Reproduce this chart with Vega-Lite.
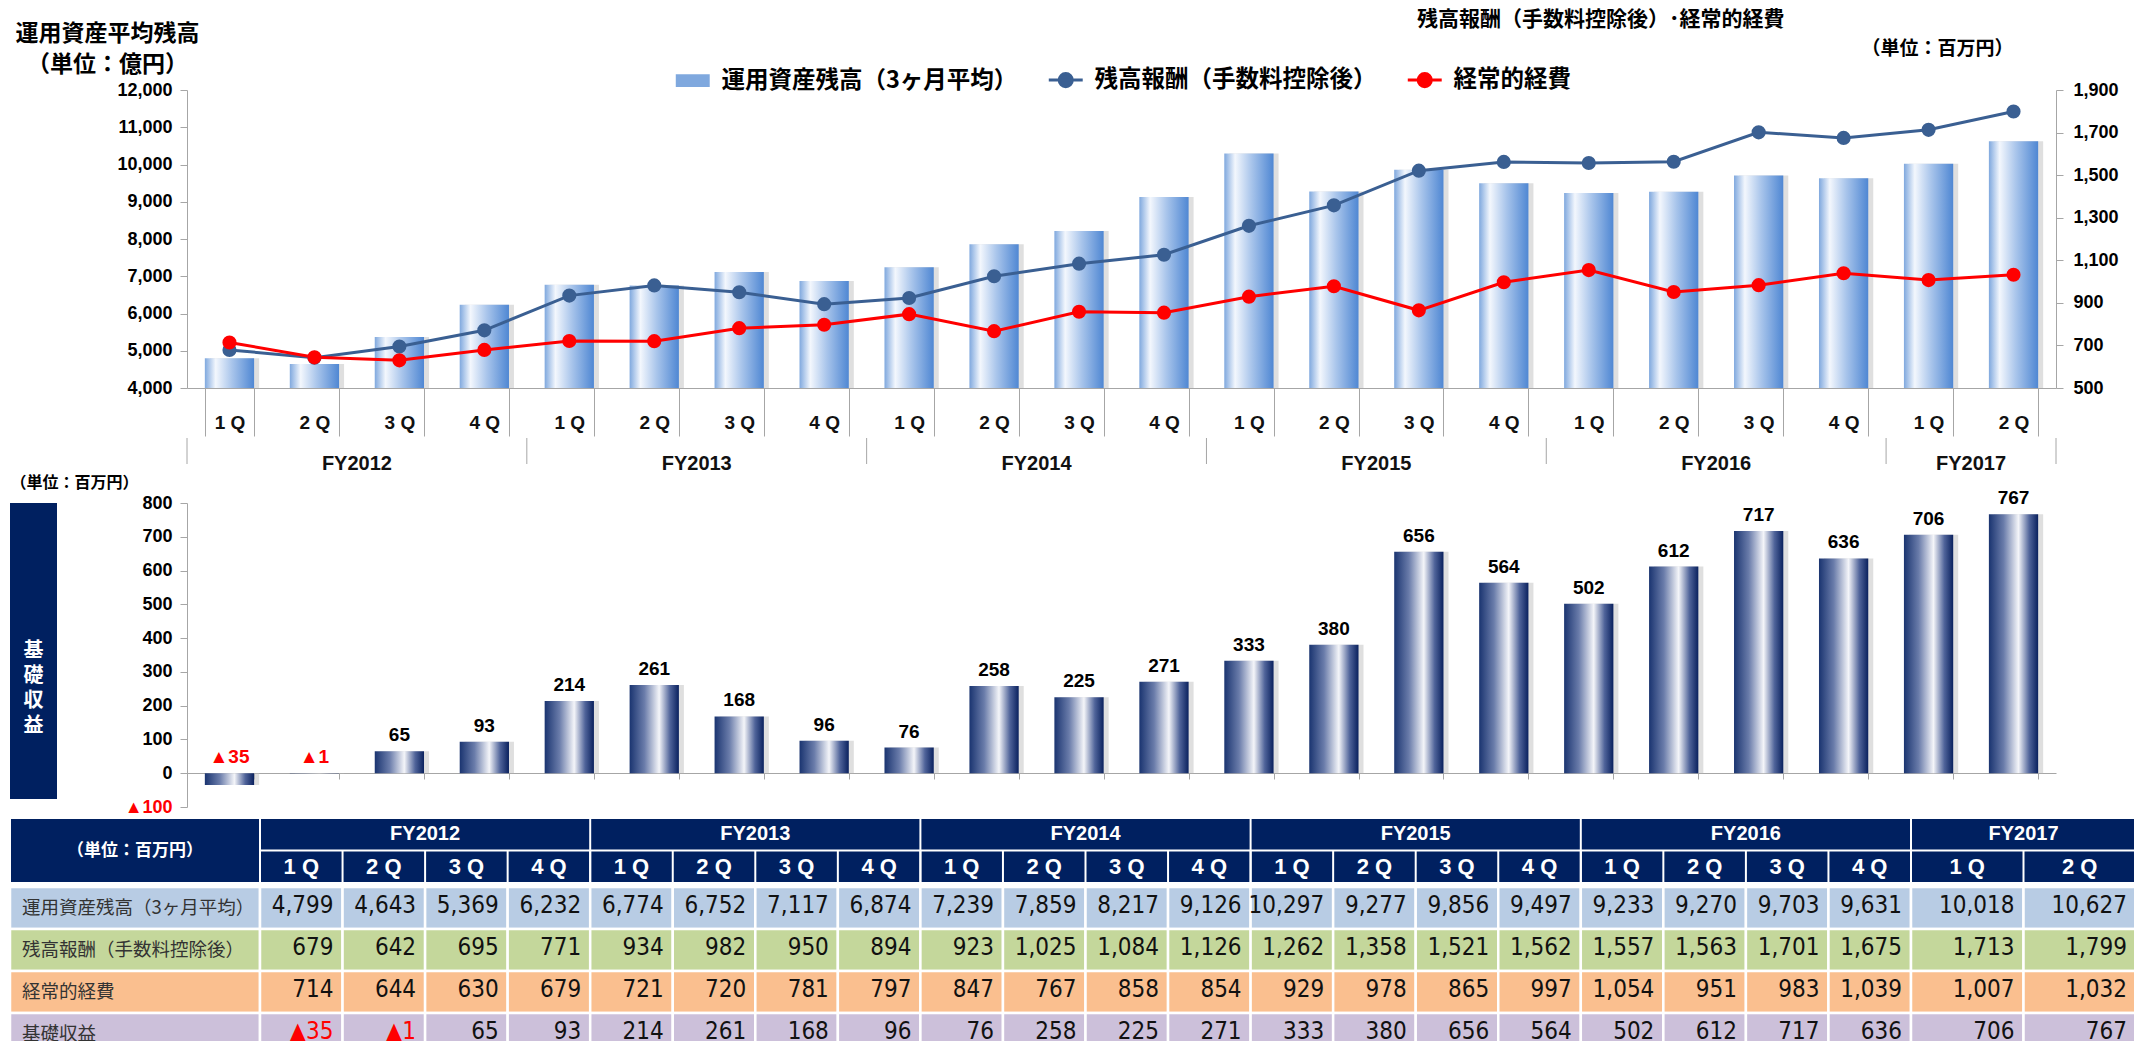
{
  "$schema": "https://vega.github.io/schema/vega-lite/v6.json",
  "background": "white",
  "padding": {"left": 8, "top": 9, "right": 0, "bottom": 0},
  "spacing": 0,
  "datasets": {
    "q": [
      {"key": "FY2012 1Q", "fy": "FY2012", "q": "1Q", "aum": 4799, "fee": 679, "exp": 714, "basic": -35},
      {"key": "FY2012 2Q", "fy": "FY2012", "q": "2Q", "aum": 4643, "fee": 642, "exp": 644, "basic": -1},
      {"key": "FY2012 3Q", "fy": "FY2012", "q": "3Q", "aum": 5369, "fee": 695, "exp": 630, "basic": 65},
      {"key": "FY2012 4Q", "fy": "FY2012", "q": "4Q", "aum": 6232, "fee": 771, "exp": 679, "basic": 93},
      {"key": "FY2013 1Q", "fy": "FY2013", "q": "1Q", "aum": 6774, "fee": 934, "exp": 721, "basic": 214},
      {"key": "FY2013 2Q", "fy": "FY2013", "q": "2Q", "aum": 6752, "fee": 982, "exp": 720, "basic": 261},
      {"key": "FY2013 3Q", "fy": "FY2013", "q": "3Q", "aum": 7117, "fee": 950, "exp": 781, "basic": 168},
      {"key": "FY2013 4Q", "fy": "FY2013", "q": "4Q", "aum": 6874, "fee": 894, "exp": 797, "basic": 96},
      {"key": "FY2014 1Q", "fy": "FY2014", "q": "1Q", "aum": 7239, "fee": 923, "exp": 847, "basic": 76},
      {"key": "FY2014 2Q", "fy": "FY2014", "q": "2Q", "aum": 7859, "fee": 1025, "exp": 767, "basic": 258},
      {"key": "FY2014 3Q", "fy": "FY2014", "q": "3Q", "aum": 8217, "fee": 1084, "exp": 858, "basic": 225},
      {"key": "FY2014 4Q", "fy": "FY2014", "q": "4Q", "aum": 9126, "fee": 1126, "exp": 854, "basic": 271},
      {"key": "FY2015 1Q", "fy": "FY2015", "q": "1Q", "aum": 10297, "fee": 1262, "exp": 929, "basic": 333},
      {"key": "FY2015 2Q", "fy": "FY2015", "q": "2Q", "aum": 9277, "fee": 1358, "exp": 978, "basic": 380},
      {"key": "FY2015 3Q", "fy": "FY2015", "q": "3Q", "aum": 9856, "fee": 1521, "exp": 865, "basic": 656},
      {"key": "FY2015 4Q", "fy": "FY2015", "q": "4Q", "aum": 9497, "fee": 1562, "exp": 997, "basic": 564},
      {"key": "FY2016 1Q", "fy": "FY2016", "q": "1Q", "aum": 9233, "fee": 1557, "exp": 1054, "basic": 502},
      {"key": "FY2016 2Q", "fy": "FY2016", "q": "2Q", "aum": 9270, "fee": 1563, "exp": 951, "basic": 612},
      {"key": "FY2016 3Q", "fy": "FY2016", "q": "3Q", "aum": 9703, "fee": 1701, "exp": 983, "basic": 717},
      {"key": "FY2016 4Q", "fy": "FY2016", "q": "4Q", "aum": 9631, "fee": 1675, "exp": 1039, "basic": 636},
      {"key": "FY2017 1Q", "fy": "FY2017", "q": "1Q", "aum": 10018, "fee": 1713, "exp": 1007, "basic": 706},
      {"key": "FY2017 2Q", "fy": "FY2017", "q": "2Q", "aum": 10627, "fee": 1799, "exp": 1032, "basic": 767}
    ],
    "fyl": [
      {"fy": "FY2012", "anchor": "FY2012 2Q"},
      {"fy": "FY2013", "anchor": "FY2013 2Q"},
      {"fy": "FY2014", "anchor": "FY2014 2Q"},
      {"fy": "FY2015", "anchor": "FY2015 2Q"},
      {"fy": "FY2016", "anchor": "FY2016 2Q"},
      {"fy": "FY2017", "anchor": "FY2017 1Q"}
    ],
    "rows": [
      {"metric": "aum", "name": "運用資産残高（3ヶ月平均）"},
      {"metric": "fee", "name": "残高報酬（手数料控除後）"},
      {"metric": "exp", "name": "経常的経費"},
      {"metric": "basic", "name": "基礎収益"}
    ]
  },
  "vconcat": [
    {
      "hconcat": [
        {"width": 177, "height": 298, "data": {"values": []}, "mark": "point"},
        {
          "width": 1869,
          "height": 298,
          "data": {"name": "q"},
          "title": {"text": "残高報酬（手数料控除後）･経常的経費", "anchor": "start", "frame": "group", "dx": 1230, "offset": -8, "font": "Noto Sans CJK JP", "fontSize": 21, "fontWeight": "bold", "color": "#000000"},
          "layer": [
            {
              "mark": {"type": "bar", "fill": "#c4c4c4", "opacity": 0.55, "xOffset": 5},
              "encoding": {
                "x": {"field": "key", "type": "nominal", "sort": null, "scale": {"domain": ["FY2012 1Q","FY2012 2Q","FY2012 3Q","FY2012 4Q","FY2013 1Q","FY2013 2Q","FY2013 3Q","FY2013 4Q","FY2014 1Q","FY2014 2Q","FY2014 3Q","FY2014 4Q","FY2015 1Q","FY2015 2Q","FY2015 3Q","FY2015 4Q","FY2016 1Q","FY2016 2Q","FY2016 3Q","FY2016 4Q","FY2017 1Q","FY2017 2Q"], "paddingInner": 0.42, "paddingOuter": 0.21},
                  "axis": {"title": null, "labelExpr": "isValid(datum.value) ? substring(datum.value, 7, 8) + ' Q' : ''", "labelAngle": 0, "tickBand": "extent", "tickSize": 48, "tickColor": "#a6a6a6", "domainColor": "#a6a6a6", "labelPadding": -14, "labelBaseline": "middle", "labelFontSize": 19, "labelFontWeight": "bold", "labelColor": "#111111"}},
                "y": {"field": "aum", "type": "quantitative", "scale": {"domain": [4000, 12000], "zero": false, "nice": false}, "axis": null},
                "y2": {"datum": 4000}
              }
            },
            {
              "mark": {"type": "bar", "fill": {"gradient": "linear", "x1": 0, "y1": 0, "x2": 1, "y2": 0, "stops": [{"offset": 0, "color": "#7fa8de"}, {"offset": 0.22, "color": "#f3f7fd"}, {"offset": 0.55, "color": "#a9c5eb"}, {"offset": 1, "color": "#4f87d3"}]}},
              "encoding": {
                "x": {"field": "key", "type": "nominal", "sort": null,
                  "axis": {"title": null, "labelExpr": "isValid(datum.value) ? substring(datum.value, 7, 8) + ' Q' : ''", "labelAngle": 0, "tickBand": "extent", "tickSize": 48, "tickColor": "#a6a6a6", "domainColor": "#a6a6a6", "labelPadding": -14, "labelBaseline": "middle", "labelFontSize": 19, "labelFontWeight": "bold", "labelColor": "#111111"}},
                "y": {"field": "aum", "type": "quantitative", "scale": {"domain": [4000, 12000], "zero": false, "nice": false},
                  "axis": {"title": ["運用資産平均残高", "（単位：億円）"], "titleAngle": 0, "titleAlign": "center", "titleBaseline": "top", "titleX": -80, "titleY": -68, "titleFont": "Noto Sans CJK JP", "titleFontSize": 23, "titleFontWeight": "bold", "titleLineHeight": 31, "titleColor": "#000000", "values": [4000, 5000, 6000, 7000, 8000, 9000, 10000, 11000, 12000], "format": ",.0f", "labelFontSize": 18, "labelFontWeight": "bold", "labelColor": "#000000", "tickColor": "#a6a6a6", "tickSize": 7, "domainColor": "#a6a6a6", "labelPadding": 8, "grid": false}},
                "y2": {"datum": 4000}
              }
            },
            {
              "transform": [{"fold": ["fee", "exp"], "as": ["series", "val"]}],
              "mark": {"type": "line", "strokeWidth": 3, "point": {"filled": true, "size": 200}},
              "encoding": {
                "x": {"field": "key", "type": "nominal", "sort": null,
                  "axis": {"title": null, "labelExpr": "isValid(datum.value) ? substring(datum.value, 7, 8) + ' Q' : ''", "labelAngle": 0, "tickBand": "extent", "tickSize": 48, "tickColor": "#a6a6a6", "domainColor": "#a6a6a6", "labelPadding": -14, "labelBaseline": "middle", "labelFontSize": 19, "labelFontWeight": "bold", "labelColor": "#111111"}},
                "y": {"field": "val", "type": "quantitative", "scale": {"domain": [500, 1900], "zero": false, "nice": false},
                  "axis": {"orient": "right", "title": "（単位：百万円）", "titleAngle": 0, "titleAlign": "center", "titleBaseline": "middle", "titleX": -119, "titleY": -42, "titleFont": "Noto Sans CJK JP", "titleFontSize": 19, "titleFontWeight": "bold", "titleColor": "#000000", "values": [500, 700, 900, 1100, 1300, 1500, 1700, 1900], "format": ",.0f", "labelFontSize": 18, "labelFontWeight": "bold", "labelColor": "#000000", "tickColor": "#a6a6a6", "tickSize": 7, "domainColor": "#a6a6a6", "labelPadding": 10, "grid": false}},
                "color": {"field": "series", "type": "nominal", "scale": {"domain": ["aum", "fee", "exp"], "range": ["#7fa8de", "#3a5f92", "#ff0000"]},
                  "legend": {"title": null, "orient": "none", "legendX": 671, "legendY": -22, "direction": "horizontal", "values": ["aum", "fee", "exp"],
                    "labelExpr": "datum.value === 'aum' ? '運用資産残高（3ヶ月平均）' : datum.value === 'fee' ? '残高報酬（手数料控除後）' : '経常的経費'",
                    "labelFont": "Noto Sans CJK JP", "labelFontSize": 23.5, "labelFontWeight": "bold", "labelColor": "#000000", "labelLimit": 500, "labelOffset": 17, "columnPadding": 24, "symbolSize": 450,
                    "symbolType": {"expr": "datum.value === 'aum' ? 'M-1.6,-0.6H1.6V0.6H-1.6Z' : 'M-1.6,0H1.6M0.62,0A0.62,0.62,0,1,1,-0.62,0A0.62,0.62,0,1,1,0.62,0Z'"},
                    "symbolStrokeColor": {"expr": "scale('color', datum.value)"},
                    "symbolStrokeWidth": {"expr": "datum.value === 'aum' ? 0 : 3"}}}
              }
            }
          ],
          "resolve": {"scale": {"y": "independent"}}
        }
      ],
      "spacing": 0,
      "bounds": "flush"
    },
    {
      "hconcat": [
        {"width": 177, "height": 26, "data": {"values": []}, "mark": "point"},
        {
          "width": 1869,
          "height": 26,
          "layer": [
            {"data": {"name": "q"}, "transform": [{"filter": "datum.q === '1Q'"}], "mark": {"type": "rule", "color": "#a6a6a6"},
              "encoding": {"x": {"field": "key", "type": "nominal", "bandPosition": 0, "scale": {"type": "band", "domain": ["FY2012 1Q","FY2012 2Q","FY2012 3Q","FY2012 4Q","FY2013 1Q","FY2013 2Q","FY2013 3Q","FY2013 4Q","FY2014 1Q","FY2014 2Q","FY2014 3Q","FY2014 4Q","FY2015 1Q","FY2015 2Q","FY2015 3Q","FY2015 4Q","FY2016 1Q","FY2016 2Q","FY2016 3Q","FY2016 4Q","FY2017 1Q","FY2017 2Q"], "paddingInner": 0, "paddingOuter": 0}, "axis": null}}},
            {"data": {"name": "q"}, "transform": [{"filter": "datum.key === 'FY2017 2Q'"}], "mark": {"type": "rule", "color": "#a6a6a6"},
              "encoding": {"x": {"field": "key", "type": "nominal", "bandPosition": 1, "axis": null}}},
            {"data": {"name": "fyl"}, "mark": {"type": "text", "font": "Liberation Sans", "fontSize": 20, "fontWeight": "bold", "color": "#111111", "dy": 12.5},
              "encoding": {"x": {"field": "anchor", "type": "nominal", "bandPosition": 1, "axis": null}, "text": {"field": "fy"}}}
          ]
        }
      ],
      "spacing": 0,
      "bounds": "flush"
    },
    {
      "hconcat": [
        {
          "width": 47,
          "height": 296,
          "view": {"fill": "#002060", "stroke": null},
          "data": {"values": [{"t": "基\n礎\n収\n益"}]},
          "mark": {"type": "text", "lineBreak": "\n", "font": "Noto Sans CJK JP", "fontSize": 20, "fontWeight": "bold", "color": "#ffffff", "lineHeight": 25, "baseline": "middle"},
          "encoding": {"text": {"field": "t"}}
        },
        {
          "width": 1869,
          "height": 304,
          "data": {"name": "q"},
          "layer": [
            {
              "mark": {"type": "bar", "fill": "#c4c4c4", "opacity": 0.55, "xOffset": 5},
              "encoding": {
                "x": {"field": "key", "type": "nominal", "sort": null, "scale": {"domain": ["FY2012 1Q","FY2012 2Q","FY2012 3Q","FY2012 4Q","FY2013 1Q","FY2013 2Q","FY2013 3Q","FY2013 4Q","FY2014 1Q","FY2014 2Q","FY2014 3Q","FY2014 4Q","FY2015 1Q","FY2015 2Q","FY2015 3Q","FY2015 4Q","FY2016 1Q","FY2016 2Q","FY2016 3Q","FY2016 4Q","FY2017 1Q","FY2017 2Q"], "paddingInner": 0.42, "paddingOuter": 0.21},
                  "axis": {"title": null, "labels": false, "offset": -34, "tickBand": "extent", "tickSize": 6, "tickColor": "#a6a6a6", "domainColor": "#a6a6a6"}},
                "y": {"field": "basic", "type": "quantitative", "scale": {"domain": [-100, 800], "nice": false},
                  "axis": {"title": "（単位：百万円）", "titleAngle": 0, "titleAlign": "center", "titleBaseline": "middle", "titleX": -113, "titleY": -21, "titleFont": "Noto Sans CJK JP", "titleFontSize": 16, "titleFontWeight": "bold", "titleColor": "#000000", "values": [-100, 0, 100, 200, 300, 400, 500, 600, 700, 800], "labelExpr": "datum.value < 0 ? '▲' + abs(datum.value) : datum.label", "labelColor": {"condition": {"test": "datum.value < 0", "value": "#ff0000"}, "value": "#000000"}, "labelFontSize": 18, "labelFontWeight": "bold", "tickColor": "#a6a6a6", "tickSize": 7, "domainColor": "#a6a6a6", "labelPadding": 8, "grid": false}}
              }
            },
            {
              "mark": {"type": "bar", "fill": {"gradient": "linear", "x1": 0, "y1": 0, "x2": 1, "y2": 0, "stops": [{"offset": 0, "color": "#1a3470"}, {"offset": 0.3, "color": "#6a7caa"}, {"offset": 0.6, "color": "#f4f5f9"}, {"offset": 0.82, "color": "#50649a"}, {"offset": 1, "color": "#0a215e"}]}},
              "encoding": {
                "x": {"field": "key", "type": "nominal", "sort": null,
                  "axis": {"title": null, "labels": false, "offset": -34, "tickBand": "extent", "tickSize": 6, "tickColor": "#a6a6a6", "domainColor": "#a6a6a6"}},
                "y": {"field": "basic", "type": "quantitative",
                  "axis": {"title": "（単位：百万円）", "titleAngle": 0, "titleAlign": "center", "titleBaseline": "middle", "titleX": -113, "titleY": -21, "titleFont": "Noto Sans CJK JP", "titleFontSize": 16, "titleFontWeight": "bold", "titleColor": "#000000", "values": [-100, 0, 100, 200, 300, 400, 500, 600, 700, 800], "labelExpr": "datum.value < 0 ? '▲' + abs(datum.value) : datum.label", "labelColor": {"condition": {"test": "datum.value < 0", "value": "#ff0000"}, "value": "#000000"}, "labelFontSize": 18, "labelFontWeight": "bold", "tickColor": "#a6a6a6", "tickSize": 7, "domainColor": "#a6a6a6", "labelPadding": 8, "grid": false}}
              }
            },
            {
              "transform": [
                {"calculate": "max(datum.basic, 0)", "as": "ly"},
                {"calculate": "datum.basic < 0 ? '▲' + abs(datum.basic) : format(datum.basic, 'd')", "as": "lab"}
              ],
              "mark": {"type": "text", "baseline": "bottom", "dy": -6, "font": "Liberation Sans", "fontSize": 19, "fontWeight": "bold"},
              "encoding": {
                "x": {"field": "key", "type": "nominal", "sort": null,
                  "axis": {"title": null, "labels": false, "offset": -34, "tickBand": "extent", "tickSize": 6, "tickColor": "#a6a6a6", "domainColor": "#a6a6a6"}},
                "y": {"field": "ly", "type": "quantitative",
                  "axis": {"title": "（単位：百万円）", "titleAngle": 0, "titleAlign": "center", "titleBaseline": "middle", "titleX": -113, "titleY": -21, "titleFont": "Noto Sans CJK JP", "titleFontSize": 16, "titleFontWeight": "bold", "titleColor": "#000000", "values": [-100, 0, 100, 200, 300, 400, 500, 600, 700, 800], "labelExpr": "datum.value < 0 ? '▲' + abs(datum.value) : datum.label", "labelColor": {"condition": {"test": "datum.value < 0", "value": "#ff0000"}, "value": "#000000"}, "labelFontSize": 18, "labelFontWeight": "bold", "tickColor": "#a6a6a6", "tickSize": 7, "domainColor": "#a6a6a6", "labelPadding": 8, "grid": false}},
                "text": {"field": "lab"},
                "color": {"condition": {"test": "datum.basic < 0", "value": "#ff0000"}, "value": "#000000"}
              }
            }
          ]
        }
      ],
      "spacing": 130,
      "bounds": "flush"
    },
    {
      "vconcat": [
        {
          "hconcat": [
            {
              "width": 250, "height": 65,
              "view": {"fill": "#002060", "stroke": "#ffffff", "strokeWidth": 2},
              "data": {"values": [{"t": "（単位：百万円）"}]},
              "mark": {"type": "text", "color": "#ffffff", "font": "Noto Sans CJK JP", "fontSize": 17, "fontWeight": "bold"},
              "encoding": {"text": {"field": "t"}}
            },
            {
              "width": 1651, "height": 65,
              "view": {"fill": "#002060", "stroke": "#ffffff", "strokeWidth": 2},
              "layer": [
                {"data": {"name": "q"}, "transform": [{"filter": "datum.fy !== 'FY2017'"}], "mark": {"type": "rule", "color": "#ffffff", "strokeWidth": 2},
                  "encoding": {"x": {"field": "key", "type": "nominal", "bandPosition": 0, "scale": {"type": "band", "domain": ["FY2012 1Q","FY2012 2Q","FY2012 3Q","FY2012 4Q","FY2013 1Q","FY2013 2Q","FY2013 3Q","FY2013 4Q","FY2014 1Q","FY2014 2Q","FY2014 3Q","FY2014 4Q","FY2015 1Q","FY2015 2Q","FY2015 3Q","FY2015 4Q","FY2016 1Q","FY2016 2Q","FY2016 3Q","FY2016 4Q"], "paddingInner": 0, "paddingOuter": 0}, "axis": null}}},
                {"data": {"values": [{"r": "fy"}]}, "mark": {"type": "rect", "fill": "#002060", "stroke": "#ffffff", "strokeWidth": 2},
                  "encoding": {"y": {"field": "r", "type": "nominal", "scale": {"type": "band", "domain": ["fy", "q"], "paddingInner": 0, "paddingOuter": 0}, "axis": null}}},
                {"data": {"name": "q"}, "transform": [{"filter": "datum.fy !== 'FY2017' && datum.q === '1Q'"}], "mark": {"type": "rule", "color": "#ffffff", "strokeWidth": 2},
                  "encoding": {"x": {"field": "key", "type": "nominal", "bandPosition": 0, "axis": null}}},
                {"data": {"name": "fyl"}, "transform": [{"filter": "datum.fy !== 'FY2017'"}], "mark": {"type": "text", "color": "#ffffff", "font": "Liberation Sans", "fontSize": 20, "fontWeight": "bold"},
                  "encoding": {"x": {"field": "anchor", "type": "nominal", "bandPosition": 1, "axis": null}, "y": {"datum": "fy", "type": "nominal", "axis": null}, "text": {"field": "fy"}}},
                {"data": {"name": "q"}, "transform": [{"filter": "datum.fy !== 'FY2017'"}, {"calculate": "replace(datum.q, 'Q', ' Q')", "as": "ql"}], "mark": {"type": "text", "color": "#ffffff", "font": "Liberation Sans", "fontSize": 22, "fontWeight": "bold"},
                  "encoding": {"x": {"field": "key", "type": "nominal", "axis": null}, "y": {"datum": "q", "type": "nominal", "axis": null}, "text": {"field": "ql"}}}
              ]
            },
            {
              "width": 225, "height": 65,
              "view": {"fill": "#002060", "stroke": "#ffffff", "strokeWidth": 2},
              "layer": [
                {"data": {"name": "q"}, "transform": [{"filter": "datum.fy === 'FY2017'"}], "mark": {"type": "rule", "color": "#ffffff", "strokeWidth": 2},
                  "encoding": {"x": {"field": "key", "type": "nominal", "bandPosition": 0, "scale": {"type": "band", "domain": ["FY2017 1Q", "FY2017 2Q"], "paddingInner": 0, "paddingOuter": 0}, "axis": null}}},
                {"data": {"values": [{"r": "fy"}]}, "mark": {"type": "rect", "fill": "#002060", "stroke": "#ffffff", "strokeWidth": 2},
                  "encoding": {"y": {"field": "r", "type": "nominal", "scale": {"type": "band", "domain": ["fy", "q"], "paddingInner": 0, "paddingOuter": 0}, "axis": null}}},
                {"data": {"name": "fyl"}, "transform": [{"filter": "datum.fy === 'FY2017'"}], "mark": {"type": "text", "color": "#ffffff", "font": "Liberation Sans", "fontSize": 20, "fontWeight": "bold"},
                  "encoding": {"x": {"field": "anchor", "type": "nominal", "bandPosition": 1, "axis": null}, "y": {"datum": "fy", "type": "nominal", "axis": null}, "text": {"field": "fy"}}},
                {"data": {"name": "q"}, "transform": [{"filter": "datum.fy === 'FY2017'"}, {"calculate": "replace(datum.q, 'Q', ' Q')", "as": "ql"}], "mark": {"type": "text", "color": "#ffffff", "font": "Liberation Sans", "fontSize": 22, "fontWeight": "bold"},
                  "encoding": {"x": {"field": "key", "type": "nominal", "axis": null}, "y": {"datum": "q", "type": "nominal", "axis": null}, "text": {"field": "ql"}}}
              ]
            }
          ],
          "spacing": 0,
          "bounds": "flush"
        },
        {
          "hconcat": [
            {
              "width": 250, "height": 168,
              "data": {"name": "rows"},
              "layer": [
                {"mark": {"type": "rect", "stroke": "#ffffff", "strokeWidth": 2.5},
                  "encoding": {
                    "y": {"field": "metric", "type": "nominal", "scale": {"type": "band", "domain": ["aum", "fee", "exp", "basic"], "paddingInner": 0, "paddingOuter": 0}, "axis": null},
                    "fill": {"field": "metric", "type": "nominal", "scale": {"domain": ["aum", "fee", "exp", "basic"], "range": ["#b8cce4", "#c4d79b", "#fabf8f", "#ccc0da"]}, "legend": null}}},
                {"mark": {"type": "text", "align": "left", "dx": 12, "font": "Noto Sans CJK JP", "fontSize": 18.5, "color": "#333333"},
                  "encoding": {
                    "x": {"datum": 0, "type": "quantitative", "scale": {"domain": [0, 1]}, "axis": null},
                    "y": {"field": "metric", "type": "nominal", "axis": null},
                    "text": {"field": "name"}}}
              ]
            },
            {
              "width": 1651, "height": 168,
              "data": {"name": "q"},
              "transform": [
                {"filter": "datum.fy !== 'FY2017'"},
                {"fold": ["aum", "fee", "exp", "basic"], "as": ["metric", "v"]},
                {"calculate": "datum.v < 0 ? '▲' + abs(datum.v) : format(datum.v, ',')", "as": "lab"}
              ],
              "layer": [
                {"mark": {"type": "rect", "stroke": "#ffffff", "strokeWidth": 2.5},
                  "encoding": {
                    "x": {"field": "key", "type": "nominal", "sort": null, "scale": {"domain": ["FY2012 1Q","FY2012 2Q","FY2012 3Q","FY2012 4Q","FY2013 1Q","FY2013 2Q","FY2013 3Q","FY2013 4Q","FY2014 1Q","FY2014 2Q","FY2014 3Q","FY2014 4Q","FY2015 1Q","FY2015 2Q","FY2015 3Q","FY2015 4Q","FY2016 1Q","FY2016 2Q","FY2016 3Q","FY2016 4Q"], "paddingInner": 0, "paddingOuter": 0}, "axis": null},
                    "y": {"field": "metric", "type": "nominal", "scale": {"type": "band", "domain": ["aum", "fee", "exp", "basic"], "paddingInner": 0, "paddingOuter": 0}, "axis": null},
                    "fill": {"field": "metric", "type": "nominal", "scale": {"domain": ["aum", "fee", "exp", "basic"], "range": ["#b8cce4", "#c4d79b", "#fabf8f", "#ccc0da"]}, "legend": null}}},
                {"mark": {"type": "text", "align": "right", "dx": -9, "dy": -2, "font": "Liberation Sans Narrow, DejaVu Sans Condensed, Liberation Sans", "fontSize": 24},
                  "encoding": {
                    "x": {"field": "key", "type": "nominal", "sort": null, "bandPosition": 1, "axis": null},
                    "y": {"field": "metric", "type": "nominal", "axis": null},
                    "text": {"field": "lab"},
                    "color": {"condition": {"test": "datum.v < 0", "value": "#ff0000"}, "value": "#111111"}}}
              ]
            },
            {
              "width": 225, "height": 168,
              "data": {"name": "q"},
              "transform": [
                {"filter": "datum.fy === 'FY2017'"},
                {"fold": ["aum", "fee", "exp", "basic"], "as": ["metric", "v"]},
                {"calculate": "datum.v < 0 ? '▲' + abs(datum.v) : format(datum.v, ',')", "as": "lab"}
              ],
              "layer": [
                {"mark": {"type": "rect", "stroke": "#ffffff", "strokeWidth": 2.5},
                  "encoding": {
                    "x": {"field": "key", "type": "nominal", "sort": null, "scale": {"domain": ["FY2017 1Q", "FY2017 2Q"], "paddingInner": 0, "paddingOuter": 0}, "axis": null},
                    "y": {"field": "metric", "type": "nominal", "scale": {"type": "band", "domain": ["aum", "fee", "exp", "basic"], "paddingInner": 0, "paddingOuter": 0}, "axis": null},
                    "fill": {"field": "metric", "type": "nominal", "scale": {"domain": ["aum", "fee", "exp", "basic"], "range": ["#b8cce4", "#c4d79b", "#fabf8f", "#ccc0da"]}, "legend": null}}},
                {"mark": {"type": "text", "align": "right", "dx": -9, "dy": -2, "font": "Liberation Sans Narrow, DejaVu Sans Condensed, Liberation Sans", "fontSize": 24},
                  "encoding": {
                    "x": {"field": "key", "type": "nominal", "sort": null, "bandPosition": 1, "axis": null},
                    "y": {"field": "metric", "type": "nominal", "axis": null},
                    "text": {"field": "lab"},
                    "color": {"condition": {"test": "datum.v < 0", "value": "#ff0000"}, "value": "#111111"}}}
              ]
            }
          ],
          "spacing": 0,
          "bounds": "flush"
        }
      ],
      "spacing": 0
    }
  ],
  "config": {
    "view": {"stroke": null},
    "font": "Liberation Sans",
    "axis": {"grid": false, "labelFont": "Liberation Sans", "domainWidth": 1, "tickWidth": 1}
  }
}
